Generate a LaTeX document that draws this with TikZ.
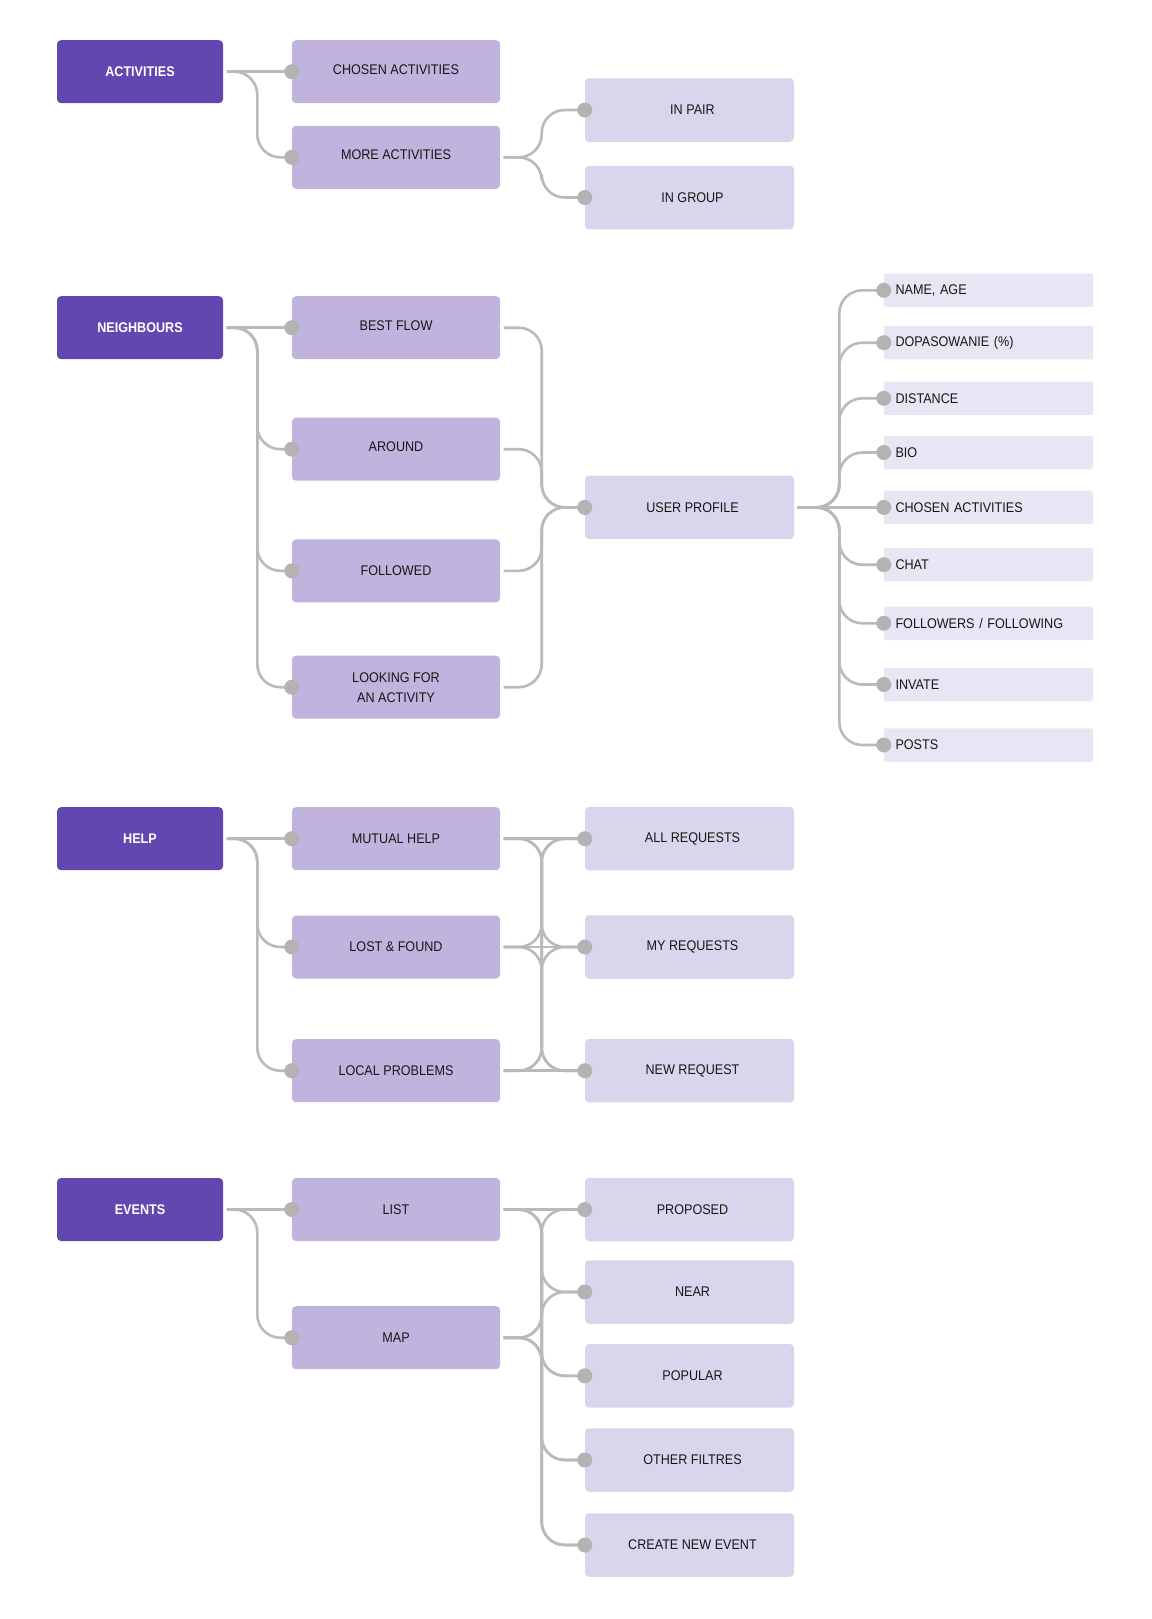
\documentclass[tikz,border=0pt]{standalone}
\usepackage{fontspec}
\setmainfont{Liberation Sans}[FakeStretch=0.9]
\usetikzlibrary{calc}
\definecolor{cone}{HTML}{6347B1}
\definecolor{ctwo}{HTML}{C0B4DF}
\definecolor{cthree}{HTML}{DAD4EC}
\definecolor{cfour}{HTML}{E8E5F5}
\definecolor{cline}{HTML}{BABABA}
\definecolor{cdot}{HTML}{B3B3B3}
\definecolor{ctext}{HTML}{161616}
\newcommand\mmElbow[3]{\draw[link] ([xshift=3.5pt]#1.east) -- (#2 |- #1.east) -- (#2 |- #3.west) -- (#3.west);}
\newcommand\mmStraight[2]{\draw[link] ([xshift=3.5pt]#1.east) -- (#2.west);}
\begin{document}
\begin{tikzpicture}[x=1pt,y=-1pt,
 box/.style={inner sep=0pt, rounded corners=4pt, align=center, font=\fontsize{14}{20}\selectfont, text=ctext},
 lone/.style={box, fill=cone, text=white, font=\fontsize{14}{20}\selectfont\bfseries, minimum width=166pt, minimum height=63pt},
 ltwo/.style={box, fill=ctwo, minimum width=208pt, minimum height=63pt},
 lthree/.style={box, fill=cthree, minimum width=209pt, minimum height=63.5pt, execute at begin node={\hspace*{6pt}}},
 attr/.style={box, rounded corners=2pt, fill=cfour, minimum height=33.5pt, text width=186pt, align=left, inner xsep=11.5pt},
 raised/.style={text depth=5pt},
 link/.style={draw=cline, line width=2.6pt, rounded corners=23pt},
]
\fill[white] (0,0) rectangle (1151,1619);
\coordinate (sA) at (257.3,0);
\coordinate (sB) at (541.7,0);
\coordinate (sC) at (839.3,0);

% ACTIVITIES
\node[lone] (act) at (140,71.7) {ACTIVITIES};
\node[ltwo, raised] (chosen) at (396,71.7) {CHOSEN ACTIVITIES};
\node[ltwo, raised] (more) at (396,157.3) {MORE ACTIVITIES};
\node[lthree] (pair) at (689.5,110) {IN PAIR};
\node[lthree] (group) at (689.5,197.5) {IN GROUP};

% NEIGHBOURS
\node[lone] (nb) at (140,327.7) {NEIGHBOURS};
\node[ltwo, raised] (best) at (396,327.7) {BEST FLOW};
\node[ltwo, raised] (around) at (396,449.2) {AROUND};
\node[ltwo] (followed) at (396,570.8) {FOLLOWED};
\node[ltwo] (looking) at (396,687.2) {LOOKING FOR\\AN ACTIVITY};
\node[lthree] (profile) at (689.5,507.4) {USER PROFILE};
\node[attr] (a1) at (988.5,290.3) {NAME, AGE};
\node[attr] (a2) at (988.5,342.7) {DOPASOWANIE (\%)};
\node[attr] (a3) at (988.5,398.3) {DISTANCE};
\node[attr] (a4) at (988.5,452.5) {BIO};
\node[attr] (a5) at (988.5,507.4) {CHOSEN ACTIVITIES};
\node[attr] (a6) at (988.5,564.7) {CHAT};
\node[attr] (a7) at (988.5,623.3) {FOLLOWERS / FOLLOWING};
\node[attr] (a8) at (988.5,684.5) {INVATE};
\node[attr] (a9) at (988.5,745) {POSTS};

% HELP
\node[lone] (help) at (140,838.7) {HELP};
\node[ltwo] (mutual) at (396,838.7) {MUTUAL HELP};
\node[ltwo] (lost) at (396,947) {LOST \& FOUND};
\node[ltwo] (local) at (396,1070.7) {LOCAL PROBLEMS};
\node[lthree] (allreq) at (689.5,838.7) {ALL REQUESTS};
\node[lthree] (myreq) at (689.5,947) {MY REQUESTS};
\node[lthree] (newreq) at (689.5,1070.7) {NEW REQUEST};

% EVENTS
\node[lone] (ev) at (140,1209.5) {EVENTS};
\node[ltwo] (list) at (396,1209.5) {LIST};
\node[ltwo] (map) at (396,1337.7) {MAP};
\node[lthree] (proposed) at (689.5,1209.5) {PROPOSED};
\node[lthree] (near) at (689.5,1292) {NEAR};
\node[lthree] (popular) at (689.5,1375.8) {POPULAR};
\node[lthree] (other) at (689.5,1460) {OTHER FILTRES};
\node[lthree] (create) at (689.5,1545) {CREATE NEW EVENT};

% connectors: activities
\mmStraight{act}{chosen}
\mmElbow{act}{sA}{more}
\mmElbow{more}{sB}{pair}
\mmElbow{more}{sB}{group}

% connectors: neighbours
\mmStraight{nb}{best}
\foreach \t in {around,followed,looking} {\mmElbow{nb}{sA}{\t}}
\foreach \s in {best,around,followed,looking} {\mmElbow{\s}{sB}{profile}}
\mmStraight{profile}{a5}
\foreach \t in {a1,a2,a3,a4,a6,a7,a8,a9} {\mmElbow{profile}{sC}{\t}}

% connectors: help
\mmStraight{help}{mutual}
\mmElbow{help}{sA}{lost}
\mmElbow{help}{sA}{local}
\mmStraight{mutual}{allreq}
\mmStraight{lost}{myreq}
\mmStraight{local}{newreq}
\mmElbow{mutual}{sB}{myreq}
\mmElbow{mutual}{sB}{newreq}
\mmElbow{lost}{sB}{allreq}
\mmElbow{lost}{sB}{newreq}
\mmElbow{local}{sB}{allreq}
\mmElbow{local}{sB}{myreq}

% connectors: events
\mmStraight{ev}{list}
\mmElbow{ev}{sA}{map}
\mmStraight{list}{proposed}
\foreach \t in {near,popular,other,create} {\mmElbow{list}{sB}{\t}}
\foreach \t in {proposed,near,popular,other,create} {\mmElbow{map}{sB}{\t}}

% dots
\foreach \n in {chosen,more,pair,group,best,around,followed,looking,profile,a1,a2,a3,a4,a5,a6,a7,a8,a9,mutual,lost,local,allreq,myreq,newreq,list,map,proposed,near,popular,other,create}
  {\fill[cdot] (\n.west) circle (7.5pt);}
\end{tikzpicture}
\end{document}
